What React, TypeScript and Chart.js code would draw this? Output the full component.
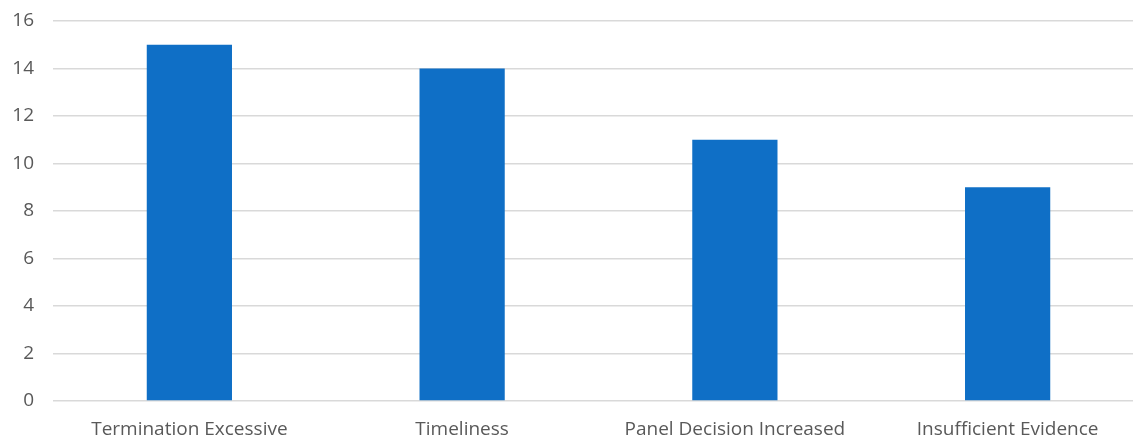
import React, { useEffect, useRef } from "react";
import { Chart, registerables } from "chart.js";

Chart.register(...registerables);

const categories = ["Termination Excessive", "Timeliness", "Panel Decision Increased", "Insufficient Evidence"];
const counts = [15, 14, 11, 9];
const yTicks = [0, 2, 4, 6, 8, 10, 12, 14, 16];

export default function App() {
  const ref = useRef<HTMLCanvasElement | null>(null);
  useEffect(() => {
    if (!ref.current) return;
    const chart = new Chart(ref.current, {
      type: "bar",
      data: {
        labels: categories,
        datasets: [
          {
            data: counts,
            backgroundColor: "#0F6FC6",
            categoryPercentage: 1,
            barPercentage: 0.3125,
          },
        ],
      },
      options: {
        animation: false,
        responsive: true,
        maintainAspectRatio: false,
        layout: { padding: { top: 21, left: 0, right: 0, bottom: 0 } },
        plugins: { legend: { display: false }, tooltip: { enabled: false } },
        scales: {
          x: {
            grid: { display: false, drawTicks: false },
            border: { display: false },
            ticks: {
              color: "#595959",
              font: { family: "Open Sans", size: 19 },
              padding: 17,
              maxRotation: 0,
              autoSkip: false,
            },
            afterFit: (s: any) => {
              s.height = 38;
              s.paddingLeft = 0;
              s.paddingRight = 0;
            },
          },
          y: {
            min: 0,
            max: 16,
            afterBuildTicks: (s: any) => {
              s.ticks = yTicks.map((v) => ({ value: v }));
            },
            grid: { color: "#D9D9D9", lineWidth: 1.5, drawTicks: false },
            border: { display: false },
            ticks: {
              color: "#595959",
              font: { family: "Open Sans", size: 19 },
              padding: 19,
            },
            afterFit: (s: any) => {
              s.width = 53;
              s.paddingTop = 0;
              s.paddingBottom = 0;
            },
          },
        },
      },
    });
    return () => chart.destroy();
  }, []);
  return (
    <div style={{ position: "fixed", left: 0, top: 0, width: 1133, height: 439, overflow: "hidden", background: "#fff" }}>
      <div style={{ position: "relative", width: 1144, height: 439 }}>
        <canvas ref={ref} />
      </div>
    </div>
  );
}
